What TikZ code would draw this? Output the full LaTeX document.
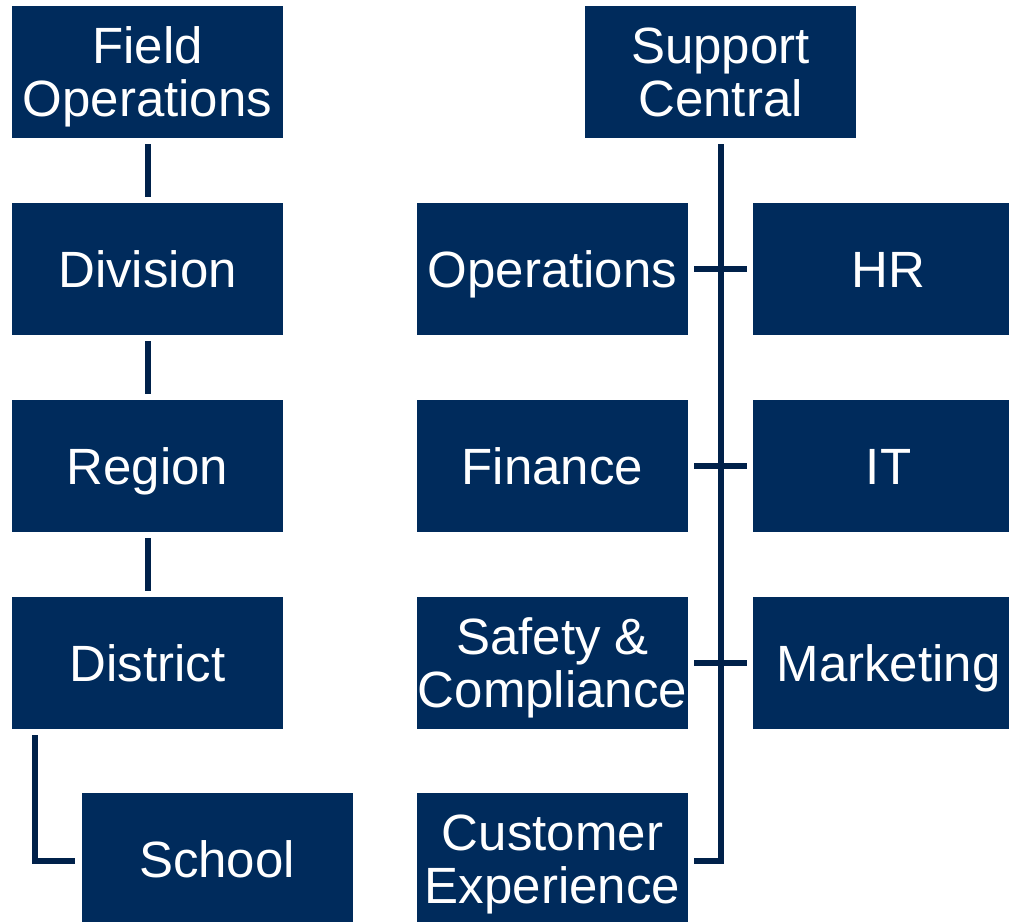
\documentclass[tikz,border=0pt]{standalone}
\usepackage{fontspec}
\setmainfont{Liberation Sans}
\usetikzlibrary{calc}
\definecolor{boxblue}{HTML}{002B5C}
\definecolor{lineblue}{HTML}{00214A}
\begin{document}
\begin{tikzpicture}[x=1pt,y=-1pt,
  orgbox/.style={fill=boxblue,draw=none,text=white,minimum width=271pt,minimum height=132pt,
    inner sep=0pt,align=center,text height=36.5pt,text depth=0pt,font=\fontsize{51}{53}\selectfont},
  twoline/.style={text height=89.5pt},
  link/.style={draw=lineblue,line width=6pt}]
\useasboundingbox (0,0) rectangle (1009,921);
\begin{scope}
\clip (0,0) rectangle (1009,921);
% left column
\node[orgbox,twoline] (fo) at (147.5,72) {Field\\Operations};
\node[orgbox] (div) at (147.5,269) {Division};
\node[orgbox] (reg) at (147.5,466) {Region};
\node[orgbox] (dis) at (147.5,663) {District};
\node[orgbox] (sch) at (217,859) {School};
% right part
\node[orgbox,twoline] (sc) at (720.5,72) {Support\\Central};
\node[orgbox] (ops) at (552.5,269) {Operations};
\node[orgbox] (fin) at (552.5,466) {Finance};
\node[orgbox,twoline] (saf) at (552.5,663) {Safety \&\\Compliance};
\node[orgbox,twoline] (cx) at (552.5,859) {Customer\\Experience};
\node[orgbox] (hr) at (888.5,269) {HR};
\node[orgbox] (it) at (888.5,466) {IT};
\node[orgbox] (mk) at (888.5,663) {Marketing};
\end{scope}
% connectors left
\draw[link,shorten <=6pt,shorten >=6pt] (fo.south) -- (div.north);
\draw[link,shorten <=6pt,shorten >=6pt] (div.south) -- (reg.north);
\draw[link,shorten <=6pt,shorten >=6pt] (reg.south) -- (dis.north);
\coordinate (dsl) at ($(dis.south west)+(23.5,6)$);
\coordinate (schin) at ($(sch.west)+(-6,2)$);
\draw[link] (dsl) |- (schin);
% trunk
\coordinate (tt) at ($(sc.south)+(0,6)$);
\coordinate (cxin) at ($(cx.east)+(6,2)$);
\draw[link] (tt) |- (cxin);
% ticks
\draw[link,shorten <=6pt,shorten >=6pt] (ops.east) -- (hr.west);
\draw[link,shorten <=6pt,shorten >=6pt] (fin.east) -- (it.west);
\draw[link,shorten <=6pt,shorten >=6pt] (saf.east) -- (mk.west);
\end{tikzpicture}
\end{document}
